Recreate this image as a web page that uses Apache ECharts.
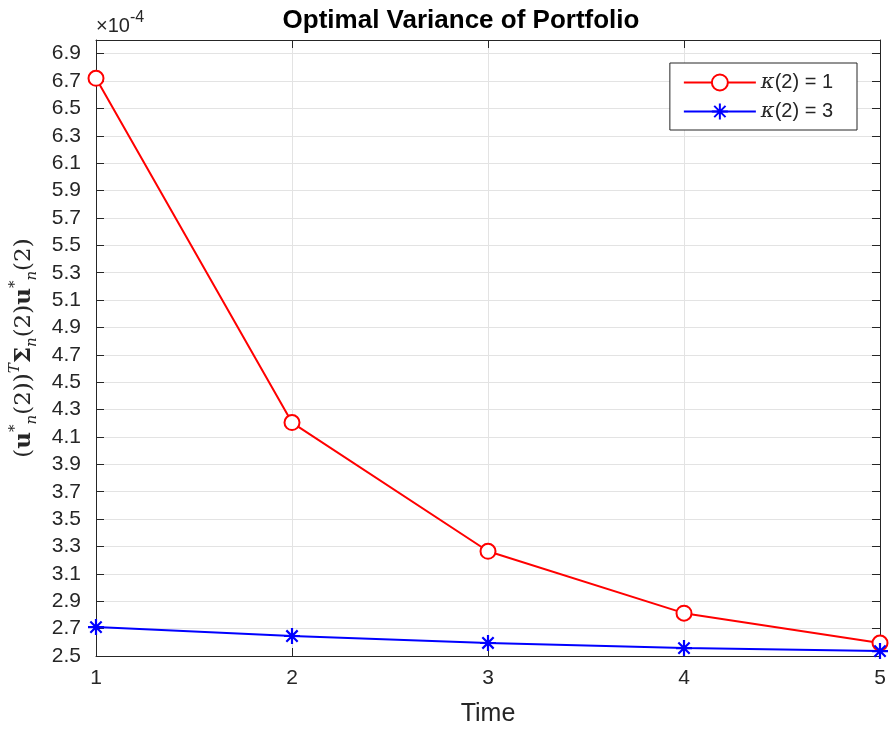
<!DOCTYPE html>
<html>
<head>
<meta charset="utf-8">
<script src="https://cdn.jsdelivr.net/npm/echarts@6/dist/echarts.min.js"></script>
<style>html,body{margin:0;padding:0;background:#fff}#c{width:890px;height:732px}</style>
</head>
<body>
<div id="c"></div>
<script>
const timeSteps = [1, 2, 3, 4, 5];
const kappa1 = [6.72, 4.205, 3.265, 2.813, 2.595];
const kappa3 = [2.711, 2.646, 2.595, 2.558, 2.536];
const yTicks = [2.5, 2.7, 2.9, 3.1, 3.3, 3.5, 3.7, 3.9, 4.1, 4.3, 4.5, 4.7, 4.9, 5.1, 5.3, 5.5, 5.7, 5.9, 6.1, 6.3, 6.5, 6.7, 6.9];
const xTicks = [1, 2, 3, 4, 5];
const seriesNames = ['κ(2) = 1', 'κ(2) = 3'];

const FONT = '"Liberation Sans", Arial, sans-serif';
const AX = '#262626';
const GRIDC = '#e3e3e3';
const starPath = 'path://M0,-10L0,10M-10,0L10,0M-7.07,-7.07L7.07,7.07M-7.07,7.07L7.07,-7.07';

const chart = echarts.init(document.getElementById('c'), null, {renderer: 'canvas'});

function yAxisCfg(pos, labels) {
  return {
    type: 'value', position: pos, min: 2.5, max: 7.0,
    axisLine: {show: true, lineStyle: {color: AX, width: 1}},
    axisTick: {show: true, inside: true, length: 8, lineStyle: {color: AX}, customValues: yTicks},
    axisLabel: {show: labels, customValues: yTicks, fontSize: 21, color: AX, fontFamily: FONT, margin: 15,
      formatter: v => v.toFixed(1)},
    splitLine: {show: labels, lineStyle: {color: GRIDC, width: 1}}
  };
}
function xAxisCfg(pos, labels) {
  return {
    type: 'value', position: pos, min: 1, max: 5, interval: 1,
    axisLine: {show: true, onZero: false, lineStyle: {color: AX, width: 1}},
    axisTick: {show: true, inside: true, length: 8, lineStyle: {color: AX}, customValues: xTicks},
    axisLabel: {show: labels, customValues: xTicks, fontSize: 21, color: AX, fontFamily: FONT, margin: 12},
    splitLine: {show: labels, lineStyle: {color: GRIDC, width: 1}},
    name: labels ? 'Time' : '', nameLocation: 'middle', nameGap: 46,
    nameTextStyle: {fontSize: 25, color: AX, fontFamily: FONT}
  };
}

const serif = '"DejaVu Serif", "Liberation Serif", serif';
const ylabelRich = {
  b: {fontSize: 23, fontFamily: serif, fill: AX, lineHeight: 32},
  bb: {fontSize: 23, fontFamily: serif, fontWeight: 'bold', fill: AX, lineHeight: 32},
  sup: {fontSize: 15, fontFamily: serif, fill: AX, verticalAlign: 'top', lineHeight: 15},
  supi: {fontSize: 15, fontFamily: serif, fontStyle: 'italic', fill: AX, verticalAlign: 'top', lineHeight: 15},
  sub: {fontSize: 15, fontFamily: serif, fontStyle: 'italic', fill: AX, verticalAlign: 'bottom', lineHeight: 15}
};

chart.setOption({
  animation: false,
  backgroundColor: '#fff',
  title: {
    text: 'Optimal Variance of Portfolio', left: 456, top: 3, textAlign: 'center',
    textStyle: {fontSize: 26, fontWeight: 'bold', color: '#000', fontFamily: FONT}
  },
  grid: {left: 96, right: 10, top: 40, bottom: 75, containLabel: false},
  xAxis: [xAxisCfg('bottom', true), xAxisCfg('top', false)],
  yAxis: [yAxisCfg('left', true), yAxisCfg('right', false)],
  legend: {
    orient: 'vertical', right: 33, top: 63,
    padding: [9, 24, 8, 13], itemWidth: 72, itemHeight: 20, itemGap: 8,
    borderColor: AX, borderWidth: 1, backgroundColor: '#fff', borderRadius: 0,
    data: seriesNames,
    formatter: n => n.replace('κ', '{k|κ}'),
    textStyle: {fontSize: 20, color: AX, fontFamily: FONT,
      rich: {k: {fontSize: 21, fontFamily: serif, fontStyle: 'italic', color: AX}}}
  },
  graphic: [
    {type: 'text', left: 96, top: 10, style: {
      text: '{m|×10}{s|-4}', fill: AX,
      rich: {
        m: {fontSize: 20, fontFamily: FONT, fill: AX, lineHeight: 32, verticalAlign: 'middle'},
        s: {fontSize: 16, fontFamily: FONT, fill: AX, verticalAlign: 'top', lineHeight: 14}
      }
    }},
    {type: 'text', x: 24, y: 348, rotation: Math.PI / 2, style: {
      text: '{b|(}{bb|u}{sup|*}{sub|n}{b|(2))}{supi|T}{bb|Σ}{sub|n}{b|(2)}{bb|u}{sup|*}{sub|n}{b|(2)}',
      align: 'center', verticalAlign: 'middle', rich: ylabelRich
    }}
  ],
  series: [
    {
      name: seriesNames[0], type: 'line', xAxisIndex: 0, yAxisIndex: 0,
      data: timeSteps.map((t, i) => [t, kappa1[i]]),
      symbol: 'circle', symbolSize: 15, showAllSymbol: true,
      lineStyle: {color: '#ff0000', width: 2},
      itemStyle: {color: '#fff', borderColor: '#ff0000', borderWidth: 2},
      emphasis: {disabled: true}, clip: false, z: 3
    },
    {
      name: seriesNames[1], type: 'line', xAxisIndex: 0, yAxisIndex: 0,
      data: timeSteps.map((t, i) => [t, kappa3[i]]),
      symbol: starPath, symbolSize: 16, symbolKeepAspect: true, showAllSymbol: true,
      lineStyle: {color: '#0000ff', width: 2},
      itemStyle: {color: '#0000ff', borderColor: '#0000ff', borderWidth: 2.2},
      emphasis: {disabled: true}, clip: false, z: 4
    }
  ]
});
</script>
</body>
</html>
